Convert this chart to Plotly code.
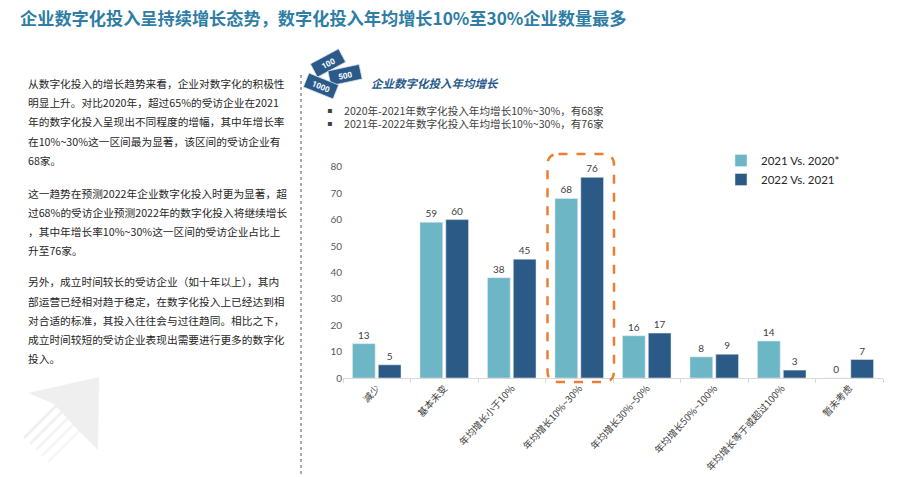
import math
import plotly.graph_objects as go

# ---- data ----
categories = ["减少", "基本未变", "年均增长小于10%", "年均增长10%~30%", "年均增长30%~50%",
              "年均增长50%~100%", "年均增长等于或超过100%", "暂未考虑"]
series_names = ["2021 Vs. 2020*", "2022 Vs. 2021"]
values_2021 = [13, 59, 38, 68, 16, 8, 14, 0]
values_2022 = [5, 60, 45, 76, 17, 9, 3, 7]
highlight = "年均增长10%~30%"

title_text = "企业数字化投入呈持续增长态势，数字化投入年均增长10%至30%企业数量最多"
subtitle_text = "企业数字化投入年均增长"
bullets = ["2020年-2021年数字化投入年均增长10%~30%，有68家",
           "2021年-2022年数字化投入年均增长10%~30%，有76家"]
paragraphs = [
    ["从数字化投入的增长趋势来看，企业对数字化的积极性",
     "明显上升。对比2020年，超过65%的受访企业在2021",
     "年的数字化投入呈现出不同程度的增幅，其中年增长率",
     "在10%~30%这一区间最为显著，该区间的受访企业有",
     "68家。"],
    ["这一趋势在预测2022年企业数字化投入时更为显著，超",
     "过68%的受访企业预测2022年的数字化投入将继续增长",
     "，其中年增长率10%~30%这一区间的受访企业占比上",
     "升至76家。"],
    ["另外，成立时间较长的受访企业（如十年以上），其内",
     "部运营已经相对趋于稳定，在数字化投入上已经达到相",
     "对合适的标准，其投入往往会与过往趋同。相比之下，",
     "成立时间较短的受访企业表现出需要进行更多的数字化",
     "投入。"],
]
notes = ["100", "500", "1000"]

# ---- layout helpers (reference pixel -> paper fraction) ----
W, H = 912, 477
PLOT_L, PLOT_R, PLOT_B, PLOT_T = 343, 883, 378, 153.6
YMAX = 85


def fx(px):
    return px / W


def fy(py):
    return 1 - py / H


CJK = "Noto Sans CJK SC"
NUM = "Lato, Noto Sans CJK SC"
LIGHT = "#6CB6C6"
DARK = "#2C5A87"
TEXT = "#404040"

fig = go.Figure()
fig.add_trace(go.Bar(x=categories, y=values_2021, name=series_names[0],
                     marker_color=LIGHT, text=values_2021, textposition="outside",
                     textfont=dict(size=10, color=TEXT, family=NUM), cliponaxis=False))
fig.add_trace(go.Bar(x=categories, y=values_2022, name=series_names[1],
                     marker_color=DARK, text=values_2022, textposition="outside",
                     textfont=dict(size=10, color=TEXT, family=NUM), cliponaxis=False))

annotations = []
shapes = []

# title
annotations.append(dict(x=fx(18), y=fy(18), xref="paper", yref="paper", xanchor="left",
                        yanchor="middle", showarrow=False, text="<b>" + title_text + "</b>",
                        font=dict(family=CJK, size=17.2, color="#2E7DA4")))

# left paragraphs
para_starts = [83.3, 193, 281.7]
for start, lines in zip(para_starts, paragraphs):
    for i, line in enumerate(lines):
        annotations.append(dict(x=fx(26), y=fy(start + i * 19.3), xref="paper", yref="paper",
                                xanchor="left", yanchor="middle", showarrow=False, text=line,
                                font=dict(family=CJK, size=10.7, color="#262626")))

# subtitle + bullets
annotations.append(dict(x=fx(369), y=fy(83), xref="paper", yref="paper", xanchor="left",
                        yanchor="middle", showarrow=False, text="<b><i>" + subtitle_text + "</i></b>",
                        font=dict(family=CJK, size=11.5, color="#2A5A8C")))
for i, b in enumerate(bullets):
    yy = fy(110 + i * 13.5)
    annotations.append(dict(x=fx(325), y=yy, xref="paper", yref="paper", xanchor="left",
                            yanchor="middle", showarrow=False, text="▪",
                            font=dict(family="DejaVu Sans", size=8, color=TEXT)))
    annotations.append(dict(x=fx(342), y=yy, xref="paper", yref="paper", xanchor="left",
                            yanchor="middle", showarrow=False, text=b,
                            font=dict(family=CJK, size=10.6, color=TEXT)))

# money-note icon (rotated notes, label drawn with the shape)
note_pos = [(328, 63, -28), (345, 75, -12), (321, 86, 22)]
for label, (cx, cy, ang) in zip(notes, note_pos):
    a = math.radians(ang)
    hw, hh = 16, 7.5
    pts = []
    for dx, dy in [(-hw, -hh), (hw, -hh), (hw, hh), (-hw, hh)]:
        rx = cx + dx * math.cos(a) - dy * math.sin(a)
        ry = cy + dx * math.sin(a) + dy * math.cos(a)
        pts.append(f"{fx(rx):.5f},{fy(ry):.5f}")
    shapes.append(dict(type="path", xref="paper", yref="paper",
                       path="M " + " L ".join(pts) + " Z",
                       fillcolor="#2B5A8A", line=dict(color="#DDE6EE", width=0.8),
                       label=dict(text="<b>" + label + "</b>", textangle=ang,
                                  textposition="middle center",
                                  font=dict(family="Roboto", size=8, color="#FFFFFF"))))

# dotted separator
shapes.append(dict(type="line", xref="paper", yref="paper", x0=fx(301), x1=fx(301),
                   y0=fy(75), y1=0, line=dict(color="#555555", width=1, dash="dot")))

# faded arrow decoration, bottom-left
head = [(99, 377), (28, 393), (54, 404), (78, 430), (98, 450)]
shapes.append(dict(type="path", xref="paper", yref="paper",
                   path="M " + " L ".join(f"{fx(x):.5f},{fy(y):.5f}" for x, y in head) + " Z",
                   fillcolor="#EFEFEF", line=dict(width=0)))
for k in range(5):
    off = k * 6
    x0, y0 = 56 + off, 406 + off
    shapes.append(dict(type="line", xref="paper", yref="paper",
                       x0=fx(x0), y0=fy(y0), x1=fx(x0 - 32), y1=fy(y0 + 32),
                       line=dict(color="#EEEEEE", width=2.5), opacity=0.9 - k * 0.12))

# highlight box around the 10%~30% group (rounded, dashed)
cat_w = (PLOT_R - PLOT_L) / len(categories)
idx = categories.index(highlight)
bx0 = PLOT_L + idx * cat_w + 2
bx1 = PLOT_L + (idx + 1) * cat_w + 1
by0, by1 = 154, 382
r = 11
path = (f"M {fx(bx0 + r)},{fy(by0)} L {fx(bx1 - r)},{fy(by0)} "
        f"Q {fx(bx1)},{fy(by0)} {fx(bx1)},{fy(by0 + r)} L {fx(bx1)},{fy(by1 - r)} "
        f"Q {fx(bx1)},{fy(by1)} {fx(bx1 - r)},{fy(by1)} L {fx(bx0 + r)},{fy(by1)} "
        f"Q {fx(bx0)},{fy(by1)} {fx(bx0)},{fy(by1 - r)} L {fx(bx0)},{fy(by0 + r)} "
        f"Q {fx(bx0)},{fy(by0)} {fx(bx0 + r)},{fy(by0)} Z")
shapes.append(dict(type="path", xref="paper", yref="paper", path=path,
                   line=dict(color="#ED7D31", width=2.5, dash="dash")))

fig.update_layout(
    width=W, height=H,
    margin=dict(l=0, r=0, t=0, b=0, autoexpand=False),
    paper_bgcolor="white", plot_bgcolor="white",
    barmode="group", bargap=0.235, bargroupgap=0.12,
    showlegend=True,
    legend=dict(x=fx(721), y=fy(146), xanchor="left", yanchor="top",
                font=dict(family=NUM, size=11.5, color="#262626"),
                bgcolor="rgba(0,0,0,0)", tracegroupgap=0),
    xaxis=dict(domain=[fx(PLOT_L), fx(PLOT_R)], tickangle=-48, automargin=False,
               tickfont=dict(family=CJK, size=9.6, color=TEXT),
               showline=True, linecolor="#D9D9D9", linewidth=1,
               ticks="outside", tickson="boundaries", ticklen=4, tickcolor="#D9D9D9",
               showgrid=False, fixedrange=True),
    yaxis=dict(domain=[fy(PLOT_B), fy(PLOT_T)], range=[0, YMAX], automargin=False,
               tickvals=list(range(0, 81, 10)),
               tickfont=dict(family=NUM, size=10, color="#595959"),
               showgrid=False, zeroline=False, showline=False, fixedrange=True),
    annotations=annotations,
    shapes=shapes,
)

# pin the page to exactly the figure size (no body margin, no scrollbars)
page_fix = ("document.documentElement.style.overflow='hidden';"
            "document.body.style.margin='0';"
            "document.body.style.overflow='hidden';")
fig.write_html("out.html", config={"displayModeBar": False}, post_script=page_fix)
